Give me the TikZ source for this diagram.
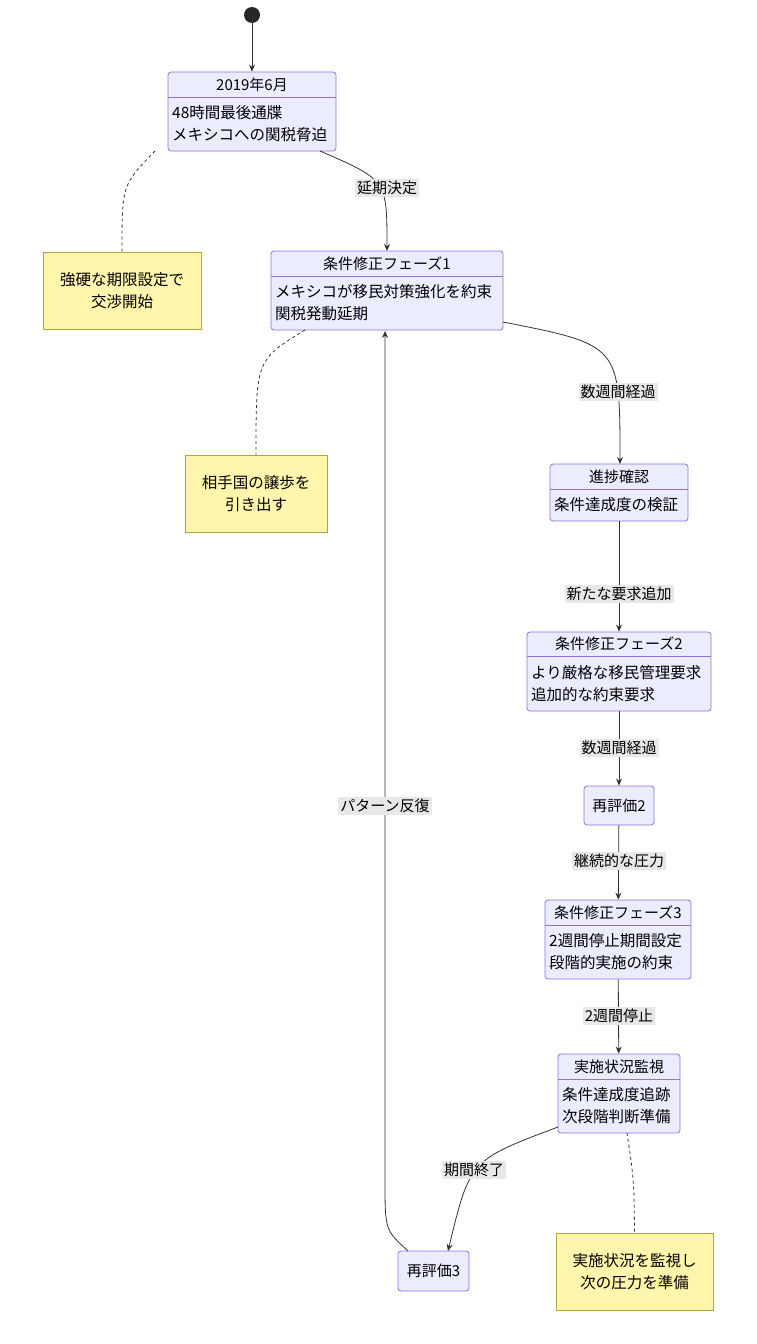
\documentclass[tikz,border=0pt]{standalone}
\usepackage{fontspec}
\setmainfont{Noto Sans CJK JP}
\usetikzlibrary{arrows.meta,positioning}
\definecolor{stfill}{HTML}{ECECFF}
\definecolor{stline}{HTML}{9370DB}
\definecolor{notefill}{HTML}{FFF5AD}
\definecolor{noteline}{HTML}{AAAA33}
\tikzset{
  box/.style={draw=stline,fill=stfill,rounded corners=3pt,line width=0.8pt,inner sep=0pt},
  note/.style={draw=noteline,fill=notefill,line width=0.8pt,inner sep=0pt,align=center,font=\fontsize{15.5}{22}\selectfont},
  head/.style={font=\fontsize{15}{17}\selectfont,inner sep=0pt},
  body/.style={font=\fontsize{15.5}{22}\selectfont,align=left,inner sep=0pt,anchor=west},
  lbl/.style={fill=gray!18,font=\fontsize{15}{17}\selectfont,inner sep=2pt},
  link/.style={-{Stealth[length=7pt,width=6pt]},draw=black!80,line width=0.8pt},
  notelink/.style={dashed,draw=black!80,line width=0.8pt}
}
% state with header, divider and body
\newcommand{\stbox}[8]{%
  \node[box,minimum width=#4-#2,minimum height=#5-#3] (#1) at ({(#2+#4)/2},{(#3+#5)/2}) {};
  \node[head] (#1h) at ({(#2+#4)/2},{(#3+#7)/2}) {#6};
  \draw[stline,line width=0.8pt] (#2,#7) -- (#4,#7);
  \node[body] (#1b) at (#2+4,{(#7+#5)/2}) {#8};
}
\begin{document}
\begin{tikzpicture}[x=1pt,y=-1pt]
  \useasboundingbox (0,0) rectangle (756,1344);
  \fill[black!85] (252,15) circle (8) coordinate (start);
  \stbox{s1}{168}{72}{336}{151}{2019年6月}{97}{48時間最後通牒\\メキシコへの関税脅迫}
  \stbox{s2}{271}{251}{503}{330}{条件修正フェーズ1}{276}{メキシコが移民対策強化を約束\\関税発動延期}
  \stbox{s3}{550}{464}{688}{521}{進捗確認}{489}{条件達成度の検証}
  \stbox{s4}{527}{632}{711}{711}{条件修正フェーズ2}{656}{より厳格な移民管理要求\\追加的な約束要求}
  \stbox{s5}{545}{900}{691}{979}{条件修正フェーズ3}{925}{2週間停止期間設定\\段階的実施の約束}
  \stbox{s6}{558}{1054}{680}{1133}{実施状況監視}{1079}{条件達成度追跡\\次段階判断準備}
  \node[box,minimum width=70,minimum height=39,font=\fontsize{15}{17}\selectfont] (r2) at (619,805.5) {再評価2};
  \node[box,minimum width=71,minimum height=40,font=\fontsize{15}{17}\selectfont] (r3) at (433.5,1271) {再評価3};
  % notes
  \node[note,minimum width=158,minimum height=77] (n1) at (122,290.5) {強硬な期限設定で\\交渉開始};
  \node[note,minimum width=142,minimum height=77] (n2) at (256,493.5) {相手国の譲歩を\\引き出す};
  \node[note,minimum width=157,minimum height=77] (n3) at (634.5,1271.5) {実施状況を監視し\\次の圧力を準備};
  \draw[notelink] (155,151) .. controls (122,185) .. (n1.north);
  \draw[notelink] (305,330) .. controls (256,360) .. (n2.north);
  \draw[notelink] (627,1133) .. controls (634,1180) .. (n3.north);
  % transitions
  \draw[link] (start) -- (s1);
  \draw[link] (320,151) .. controls (387,180) .. (387,251);
  \node[lbl] at (387,188) {延期決定};
  \draw[link] (503,322) .. controls (620,345) .. (620,464);
  \node[lbl] at (618,392) {数週間経過};
  \draw[link] (s3) -- (s4);
  \node[lbl] at (619,594) {新たな要求追加};
  \draw[link] (s4) -- (r2);
  \node[lbl] at (619,748) {数週間経過};
  \draw[link] (r2) -- (s5);
  \node[lbl] at (619,861) {継続的な圧力};
  \draw[link] (s5) -- (s6);
  \node[lbl] at (619,1016) {2週間停止};
  \draw[link] (558,1127) .. controls (470,1160) .. (448,1251);
  \node[lbl] at (474,1170) {期間終了};
  \draw[link] (408,1251) .. controls (385,1230) .. (385,1180) -- (385,331);
  \node[lbl] at (385,806) {パターン反復};
\end{tikzpicture}
\end{document}
